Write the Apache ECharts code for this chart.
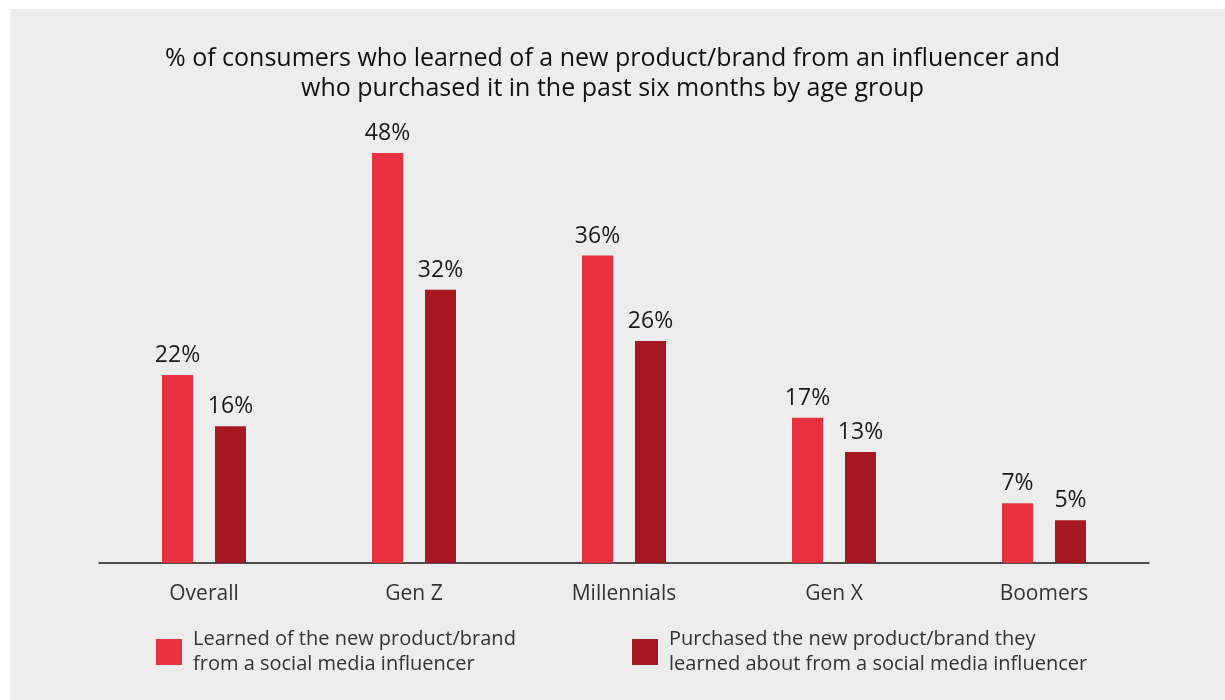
<!DOCTYPE html>
<html>
<head>
<meta charset="utf-8">
<script src="https://cdn.jsdelivr.net/npm/echarts@6/dist/echarts.min.js"></script>
<style>
  html, body { margin: 0; padding: 0; background: #ffffff; }
  #chart { width: 1225px; height: 700px; }
</style>
</head>
<body>
<div id="chart"></div>
<script>
// 年龄组
const groups = ['Overall', 'Gen Z', 'Millennials', 'Gen X', 'Boomers'];
const learnedName = 'Learned of the new product/brand\nfrom a social media influencer';
const purchasedName = 'Purchased the new product/brand they\nlearned about from a social media influencer';
const learned = [22, 48, 36, 17, 7];
const purchased = [16, 32, 26, 13, 5];

const fontFamily = '"Open Sans", "Noto Sans", sans-serif';

const chart = echarts.init(document.getElementById('chart'));

const legendText = {
  fontSize: 20,
  color: '#333333',
  lineHeight: 25,
  padding: [0, 0, 0, 6],
  fontFamily: fontFamily
};

const valueLabel = {
  show: true,
  position: 'top',
  distance: 8,
  formatter: '{c}%',
  fontSize: 23,
  color: '#1a1a1a',
  fontFamily: fontFamily
};

const option = {
  backgroundColor: 'transparent',
  textStyle: { fontFamily: fontFamily },
  graphic: [
    {
      type: 'rect',
      z: -100,
      silent: true,
      shape: { x: 10, y: 9, width: 1215, height: 691 },
      style: { fill: '#ededed' }
    }
  ],
  title: {
    text: '% of consumers who learned of a new product/brand from an influencer and\nwho purchased it in the past six months by age group',
    left: 'center',
    top: 39,
    textStyle: {
      fontSize: 25,
      fontWeight: 'normal',
      color: '#111111',
      lineHeight: 30,
      fontFamily: fontFamily
    }
  },
  legend: [
    {
      data: [learnedName],
      left: 151,
      top: 622,
      itemWidth: 26,
      itemHeight: 26,
      icon: 'rect',
      selectedMode: false,
      textStyle: legendText
    },
    {
      data: [purchasedName],
      left: 627,
      top: 622,
      itemWidth: 26,
      itemHeight: 26,
      icon: 'rect',
      selectedMode: false,
      textStyle: legendText
    }
  ],
  grid: {
    left: 99,
    right: 76,
    top: 136,
    bottom: 137,
    containLabel: false
  },
  xAxis: {
    type: 'category',
    data: groups,
    axisTick: { show: false },
    axisLine: { lineStyle: { color: '#1a1a1a', width: 1.5 } },
    axisLabel: { fontSize: 21, color: '#333333', margin: 21, fontFamily: fontFamily }
  },
  yAxis: {
    type: 'value',
    min: 0,
    max: 50,
    show: false,
    splitLine: { show: false }
  },
  series: [
    {
      name: learnedName,
      type: 'bar',
      data: learned,
      barWidth: 31,
      barGap: '71%',
      itemStyle: { color: '#e8303f' },
      label: valueLabel
    },
    {
      name: purchasedName,
      type: 'bar',
      data: purchased,
      barWidth: 31,
      itemStyle: { color: '#a51822' },
      label: valueLabel
    }
  ]
};

chart.setOption(option);
</script>
</body>
</html>
